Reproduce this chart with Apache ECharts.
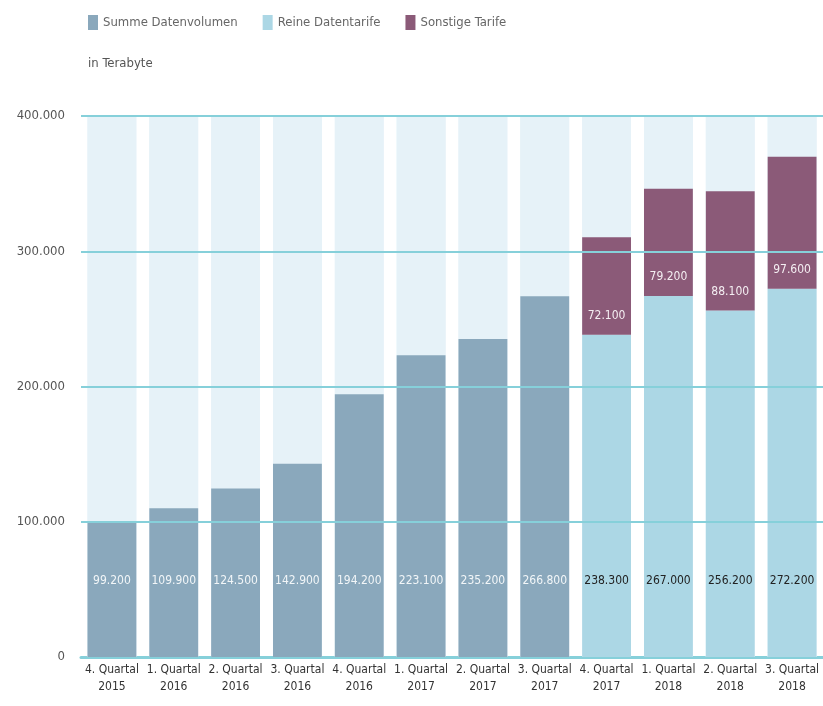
<!DOCTYPE html>
<html>
<head>
<meta charset="utf-8">
<script src="https://cdn.jsdelivr.net/npm/echarts@6/dist/echarts.min.js"></script>
<style>html,body{margin:0;padding:0;background:#fff}#c{width:823px;height:706px}</style>
</head>
<body>
<div id="c"></div>
<script>
const categories = ["4. Quartal\n2015","1. Quartal\n2016","2. Quartal\n2016","3. Quartal\n2016","4. Quartal\n2016","1. Quartal\n2017","2. Quartal\n2017","3. Quartal\n2017","4. Quartal\n2017","1. Quartal\n2018","2. Quartal\n2018","3. Quartal\n2018"];
const summeDatenvolumen = [99200,109900,124500,142900,194200,223100,235200,266800,null,null,null,null];
const reineDatentarife = [null,null,null,null,null,null,null,null,238300,267000,256200,272200];
const sonstigeTarife = [null,null,null,null,null,null,null,null,72100,79200,88100,97600];
const yTicks = [0,100000,200000,300000,400000];

const FONT = "'Liberation Sans Narrow','DejaVu Sans Condensed',sans-serif";
const fmt = v => String(Math.round(v)).replace(/\B(?=(\d{3})+(?!\d))/g, '.');
const GRID = '#86d0da';

const chart = echarts.init(document.getElementById('c'));
chart.setOption({
  animation: false,
  textStyle: {fontFamily: FONT},
  title: {text: 'in Terabyte', left: 83, top: 52, textStyle: {fontFamily: FONT, fontSize: 13, fontWeight: 'normal', color: '#555'}},
  legend: {
    left: 83, top: 10, icon: 'rect', itemWidth: 10, itemHeight: 15, itemGap: 25,
    textStyle: {fontFamily: FONT, fontSize: 13, color: '#666'},
    data: ['Summe Datenvolumen','Reine Datentarife','Sonstige Tarife']
  },
  grid: {left: 81, right: 0, top: 116, bottom: 49},
  xAxis: {
    type: 'category', data: categories,
    axisLine: {show: true, lineStyle: {color: GRID, width: 3}},
    axisTick: {show: false},
    axisLabel: {fontFamily: FONT, fontSize: 12, color: '#333', lineHeight: 17, margin: 4, interval: 0}
  },
  yAxis: {
    type: 'value', min: yTicks[0], max: yTicks[yTicks.length-1], interval: yTicks[1]-yTicks[0],
    axisLine: {show: false}, axisTick: {show: false}, splitLine: {show: false},
    axisLabel: {fontFamily: FONT, fontSize: 13, color: '#555', margin: 16, formatter: v => v === 0 ? '0' : fmt(v)}
  },
  series: [
    {
      name: 'Summe Datenvolumen', type: 'bar', stack: 's', data: summeDatenvolumen,
      barCategoryGap: '21%',
      showBackground: true, backgroundStyle: {color: '#e6f2f8'},
      itemStyle: {color: '#8aa8bc'},
      label: {show: true, position: 'insideBottom', distance: 70, color: '#f2f6f8', fontFamily: FONT, fontSize: 12, formatter: p => fmt(p.value)}
    },
    {
      name: 'Reine Datentarife', type: 'bar', stack: 's', data: reineDatentarife,
      barCategoryGap: '21%',
      showBackground: true, backgroundStyle: {color: '#e6f2f8'},
      itemStyle: {color: '#acd7e5'},
      label: {show: true, position: 'insideBottom', distance: 70, color: '#222', fontFamily: FONT, fontSize: 12, formatter: p => fmt(p.value)}
    },
    {
      name: 'Sonstige Tarife', type: 'bar', stack: 's', data: sonstigeTarife,
      barCategoryGap: '21%',
      itemStyle: {color: '#8b5a78'},
      label: {show: true, position: 'insideBottom', distance: 13, color: '#f4eef2', fontFamily: FONT, fontSize: 12, formatter: p => fmt(p.value)},
      markLine: {
        silent: true, symbol: 'none', label: {show: false},
        lineStyle: {color: GRID, width: 2, type: 'solid'},
        data: yTicks.slice(1).map(v => ({yAxis: v}))
      }
    }
  ]
});
</script>
</body>
</html>
